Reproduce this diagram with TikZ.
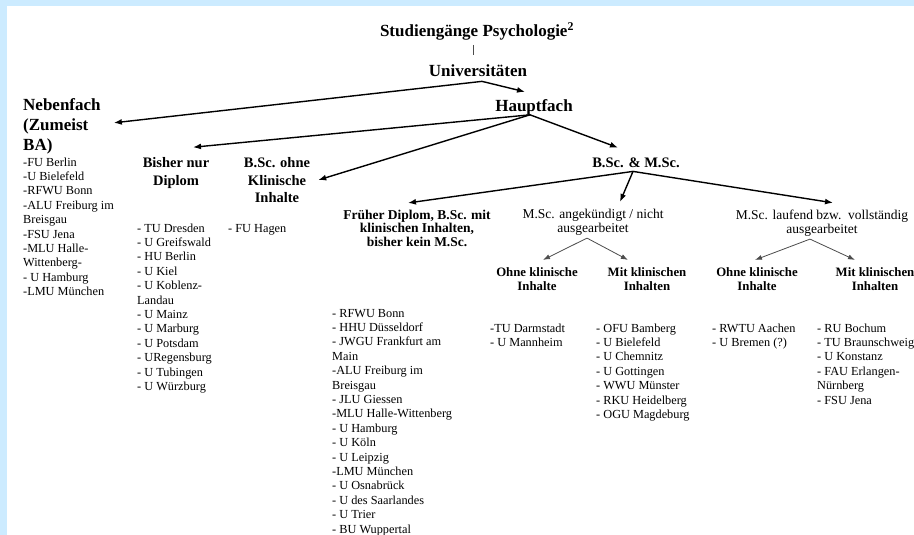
\documentclass[tikz,border=0pt]{standalone}
\usepackage{fontspec}
\setmainfont{Liberation Serif}
\usetikzlibrary{arrows.meta}
\definecolor{frameblue}{RGB}{204,235,255}

\begin{document}
\begin{tikzpicture}[x=1pt, y=-1pt,
             big/.style={font=\fontsize{17}{20}\selectfont\bfseries, inner sep=0pt, align=left},
             mid/.style={font=\fontsize{14.5}{17.5}\selectfont\bfseries, inner sep=0pt, align=center, anchor=base},
             msc/.style={font=\fontsize{13.5}{14}\selectfont, inner sep=0pt, align=center, anchor=base},
             klin/.style={font=\fontsize{12.8}{14}\selectfont\bfseries, inner sep=0pt, align=center, anchor=base},
             unis/.style={font=\fontsize{12.3}{14.4}\selectfont, inner sep=0pt, align=left, anchor=base west},
             stem/.style={line width=.8pt, draw=black!70},
             branch/.style={line width=1.4pt, -{Latex[length=8pt,width=6pt]}},
             twig/.style={line width=.8pt, draw=black!70, -{Latex[length=7pt,width=5pt]}}]
             \useasboundingbox (0, 0) rectangle (914, 535);
             \fill[white] (0, 0) rectangle (914, 535);
             \fill[frameblue] (0, 0) rectangle (914, 6);
             \fill[frameblue] (0, 0) rectangle (7, 535);

             % multi-line nodes sit on the baseline of their last line
             \node[big, anchor=base] (title) at (477, 37) {Studiengänge Psychologie\textsuperscript{2}};
             \node[big, anchor=base] (uni) at (478, 77) {Universitäten};
             \node[big, anchor=base] (haupt) at (534, 111) {Hauptfach};
             \node[big, anchor=base west] (neben) at (23, 150) {Nebenfach\\(Zumeist\\BA)};

             \node[mid] (bisher) at (176, 185) {Bisher nur\\Diplom};
             \node[mid] (bscohne) at (277, 202.5) {B.Sc. ohne\\Klinische\\Inhalte};
             \node[mid] (bscmsc) at (636, 167.5) {B.Sc. \& M.Sc.};

             \node[msc, font=\fontsize{13.5}{13.6}\selectfont\bfseries] (frueher) at (417, 246.2) {Früher Diplom, B.Sc. mit\\klinischen Inhalten,\\bisher kein M.Sc.};
             \node[msc] (msca) at (593, 232) {M.Sc. angekündigt / nicht\\ausgearbeitet};
             \node[msc] (mscl) at (822, 233) {M.Sc. laufend bzw.\ \ vollständig\\ausgearbeitet};

             \node[klin] (ohneL) at (537, 290) {Ohne klinische\\Inhalte};
             \node[klin] (mitL) at (647, 290) {Mit klinischen\\Inhalten};
             \node[klin] (ohneR) at (757, 290) {Ohne klinische\\Inhalte};
             \node[klin] (mitR) at (875, 290) {Mit klinischen\\Inhalten};

             \node[unis] (nebenlist) at (23, 295.6) {-FU Berlin\\-U Bielefeld\\-RFWU Bonn\\-ALU Freiburg im\\Breisgau\\-FSU Jena\\-MLU Halle-\\Wittenberg-\\- U Hamburg\\-LMU München};
             \node[unis] (bisherlist) at (137, 390.4) {- TU Dresden\\- U Greifswald\\- HU Berlin\\- U Kiel\\- U Koblenz-\\Landau\\- U Mainz\\- U Marburg\\- U Potsdam\\- URegensburg\\- U Tubingen\\- U Würzburg};
             \node[unis] (hagen) at (228, 232) {- FU Hagen};
             \node[unis] (frueherlist) at (332, 533) {- RFWU Bonn\\- HHU Düsseldorf\\- JWGU Frankfurt am\\Main\\-ALU Freiburg im\\Breisgau\\- JLU Giessen\\-MLU Halle-Wittenberg\\- U Hamburg\\- U Köln\\- U Leipzig\\-LMU München\\- U Osnabrück\\- U des Saarlandes\\- U Trier\\- BU Wuppertal};
             \node[unis] (ohneLlist) at (490, 346.4) {-TU Darmstadt\\- U Mannheim};
             \node[unis] (mitLlist) at (596, 418.4) {- OFU Bamberg\\- U Bielefeld\\- U Chemnitz\\- U Gottingen\\- WWU Münster\\- RKU Heidelberg\\- OGU Magdeburg};
             \node[unis] (ohneRlist) at (712, 346.4) {- RWTU Aachen\\- U Bremen (?)};
             \node[unis] (mitRlist) at (817, 404) {- RU Bochum\\- TU Braunschweig\\- U Konstanz\\- FAU Erlangen-\\Nürnberg\\- FSU Jena};

             \draw[stem] ([xshift=-4pt, yshift=-4pt]title.south) -- ([xshift=-5pt, yshift=10pt]uni.north);

             \draw[branch] ([xshift=4pt, yshift=-4pt]uni.south) -- ([xshift=13pt, yshift=3pt]neben.east);
             \draw[branch] ([xshift=4pt, yshift=-4pt]uni.south) -- ([xshift=-9pt, yshift=7pt]haupt.north);

             \draw[branch] ([xshift=-4pt]haupt.south) -- ([xshift=17pt, yshift=10pt]bisher.north);
             \draw[branch] ([xshift=-4pt]haupt.south) -- ([xshift=8pt]bscohne.east);
             \draw[branch] ([xshift=-4pt]haupt.south) -- ([xshift=-18pt, yshift=10pt]bscmsc.north);

             \draw[branch] ([xshift=-3pt, yshift=-3.5pt]bscmsc.south) -- ([xshift=-9pt, yshift=6.5pt]frueher.north);
             \draw[branch] ([xshift=-3pt, yshift=-3.5pt]bscmsc.south) -- ([xshift=27pt, yshift=6.5pt]msca.north);
             \draw[branch] ([xshift=-3pt, yshift=-3.5pt]bscmsc.south) -- ([xshift=11pt, yshift=6.5pt]mscl.north);

             \draw[twig] ([xshift=-6pt, yshift=-3pt]msca.south) -- ([xshift=6pt, yshift=7pt]ohneL.north);
             \draw[twig] ([xshift=-6pt, yshift=-3pt]msca.south) -- ([xshift=-19pt, yshift=7pt]mitL.north);
             \draw[twig] ([xshift=-12pt, yshift=-3pt]mscl.south) -- ([xshift=-2pt, yshift=7pt]ohneR.north);
             \draw[twig] ([xshift=-12pt, yshift=-3pt]mscl.south) -- ([xshift=-20pt, yshift=7pt]mitR.north);
             \end{tikzpicture}
\end{document}
